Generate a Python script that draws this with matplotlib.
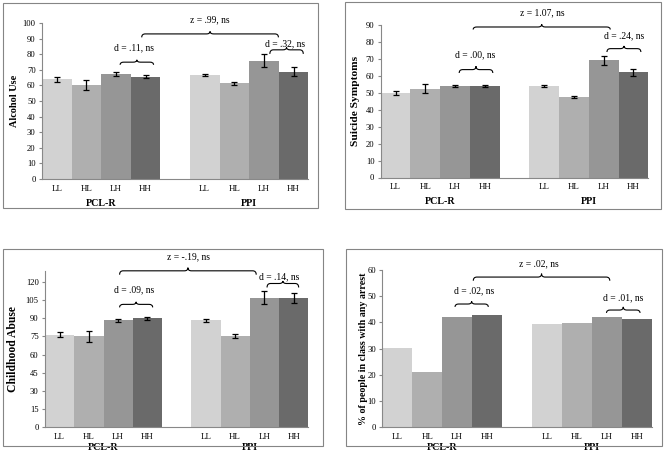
import numpy as np
import matplotlib.pyplot as plt
from matplotlib.path import Path
from matplotlib.patches import PathPatch, Rectangle

plt.rcParams['font.family'] = ['Liberation Serif', 'DejaVu Serif']

#categories
cats = ['LL', 'HL', 'LH', 'HH']
groups = ['PCL-R', 'PPI']

#alcohol use
alcohol_pclr = [63.8, 60.0, 67.4, 65.5]
alcohol_pclr_err = [1.4, 3.2, 1.1, 0.9]
alcohol_ppi = [66.8, 61.5, 75.9, 68.9]
alcohol_ppi_err = [0.6, 1.0, 4.3, 2.9]

#suicide symptoms
suicide_pclr = [49.8, 52.4, 54.1, 54.1]
suicide_pclr_err = [1.3, 2.7, 0.6, 0.8]
suicide_ppi = [54.1, 47.6, 69.3, 62.1]
suicide_ppi_err = [0.4, 0.8, 2.7, 2.0]

#childhood abuse
abuse_pclr = [76.6, 75.0, 88.3, 90.2]
abuse_pclr_err = [1.9, 4.4, 1.0, 1.2]
abuse_ppi = [88.5, 75.3, 107.2, 107.2]
abuse_ppi_err = [1.1, 1.8, 5.6, 4.1]

#arrests (no error bars)
arrest_pclr = [30.2, 20.9, 42.0, 42.9]
arrest_ppi = [39.2, 39.6, 42.0, 41.3]

#annotation texts
alcohol_notes = ['z = .99, ns', 'd = .11, ns', 'd = .32, ns']
suicide_notes = ['z = 1.07, ns', 'd = .00, ns', 'd = .24, ns']
abuse_notes = ['z = -.19, ns', 'd = .09, ns', 'd = .14, ns']
arrest_notes = ['z = .02, ns', 'd = .02, ns', 'd = .01, ns']

bar_colors = ['#d2d2d2', '#afafaf', '#969696', '#6a6a6a']

W, H = 666, 457
fig = plt.figure(figsize=(W/100, H/100), dpi=100)


def px_axes(l, r, top, bottom):
    return fig.add_axes([l/W, 1-bottom/H, (r-l)/W, (bottom-top)/H])


def brace(ax, x0, x1, y_end, y_flat, y_tip, dx=0.12):
    #curly brace pointing up, drawn in data coords
    xm = (x0+x1)/2
    verts = [(x0, y_end), (x0, y_flat), (x0+dx, y_flat), (xm-dx, y_flat),
             (xm, y_flat), (xm, y_tip), (xm, y_flat), (xm+dx, y_flat),
             (x1-dx, y_flat), (x1, y_flat), (x1, y_end)]
    codes = [Path.MOVETO, Path.CURVE3, Path.CURVE3, Path.LINETO,
             Path.CURVE3, Path.CURVE3, Path.CURVE3, Path.CURVE3,
             Path.LINETO, Path.CURVE3, Path.CURVE3]
    ax.add_patch(PathPatch(Path(verts, codes), fill=False, color='black',
                           lw=0.8, clip_on=False))


def panel(rect, v1, e1, v2, e2, ylim, yticks, ylabel, lab_size, lab_x,
          notes, braces, text_pos, group_off):
    ax = px_axes(*rect)
    x1 = np.arange(4)
    x2 = np.arange(4)+5
    ax.bar(x1, v1, width=1.0, color=bar_colors, edgecolor='none')
    ax.bar(x2, v2, width=1.0, color=bar_colors, edgecolor='none')
    if e1 is not None:
        ax.errorbar(x1, v1, yerr=e1, fmt='none', ecolor='black', elinewidth=0.9,
                    capsize=2.5, capthick=0.9)
        ax.errorbar(x2, v2, yerr=e2, fmt='none', ecolor='black', elinewidth=0.9,
                    capsize=2.5, capthick=0.9)
    ax.set_xlim(-0.5, 8.5)
    ax.set_ylim(*ylim)
    ax.set_yticks(yticks)
    ax.set_xticks(list(x1)+list(x2), cats*2)
    ax.tick_params(axis='x', length=0, pad=4, labelsize=6.4)
    ax.tick_params(axis='y', direction='out', length=2.5, color='#888888',
                   labelsize=6.2, pad=2)
    for s in ['top', 'right']:
        ax.spines[s].set_visible(False)
    for s in ['left', 'bottom']:
        ax.spines[s].set_color('#888888')
        ax.spines[s].set_linewidth(0.8)
    ax.set_ylabel(ylabel, fontweight='bold', fontsize=lab_size)
    ax.yaxis.set_label_coords(lab_x, 0.5)
    for gx, g in zip([1.5, 6.5], groups):
        ax.annotate(g, xy=(gx, 0), xycoords=('data', 'axes fraction'),
                    xytext=(0, -group_off*0.72), textcoords='offset points',
                    ha='center', va='center', fontweight='bold', fontsize=7.2)
    for b in braces:
        brace(ax, *b)
    for (tx, ty), t in zip(text_pos, notes):
        ax.text(tx, ty, t, ha='center', va='center', fontsize=6.9, clip_on=False)
    return ax


panel((42, 308.3, 23, 179), alcohol_pclr, alcohol_pclr_err, alcohol_ppi, alcohol_ppi_err,
      (0, 100), np.arange(0, 101, 10), 'Alcohol Use', 7.4, -0.085,
      alcohol_notes,
      [(2.87, 7.49, 90.8, 93.0, 94.6), (2.14, 3.27, 73.2, 74.9, 76.4),
       (7.20, 8.33, 80.2, 82.8, 84.4)],
      [(5.18, 102.1), (2.61, 83.8), (7.71, 86.8)], 24)

panel((380.7, 648.3, 25.3, 177.5), suicide_pclr, suicide_pclr_err, suicide_ppi, suicide_ppi_err,
      (0, 90), np.arange(0, 91, 10), 'Suicide Symptoms', 8.2, -0.077,
      suicide_notes,
      [(2.61, 7.22, 87.5, 89.0, 90.6), (2.14, 3.27, 61.8, 63.8, 65.8),
       (7.11, 8.25, 74.2, 76.2, 77.8)],
      [(4.92, 97.5), (2.68, 72.7), (7.69, 83.7)], 24)

panel((45, 308.3, 270.7, 427), abuse_pclr, abuse_pclr_err, abuse_ppi, abuse_ppi_err,
      (0, 129.5), np.arange(0, 121, 15), 'Childhood Abuse', 8.4, -0.097,
      abuse_notes,
      [(2.05, 6.72, 126.2, 129.4, 132.0), (2.05, 3.18, 99.1, 101.6, 103.7),
       (7.09, 8.17, 115.6, 118.9, 121.0)],
      [(4.40, 141.3), (2.56, 113.4), (7.49, 124.4)], 20.5)

panel((382.3, 651.7, 270, 427), arrest_pclr, None, arrest_ppi, None,
      (0, 60), np.arange(0, 61, 10), '% of people in class with any arrest', 7.2, -0.052,
      arrest_notes,
      [(2.54, 7.10, 55.9, 57.3, 58.6), (1.93, 3.04, 45.9, 47.0, 48.0),
       (6.99, 8.11, 43.6, 44.7, 45.9)],
      [(4.74, 62.2), (2.56, 52.1), (7.55, 49.3)], 21)

#outer frames around each chart
boxes = [(3.3, 2.7, 318.3, 208.3), (345.3, 1.7, 661.3, 209.3),
         (3.3, 248.7, 322.7, 446.3), (346.3, 248.7, 661.8, 446.3)]
for l, t, r, b in boxes:
    fig.patches.append(Rectangle((l/W, 1-b/H), (r-l)/W, (b-t)/H, fill=False,
                                 edgecolor='#858585', lw=0.8,
                                 transform=fig.transFigure, figure=fig))

fig.savefig('out.png', dpi=100)
